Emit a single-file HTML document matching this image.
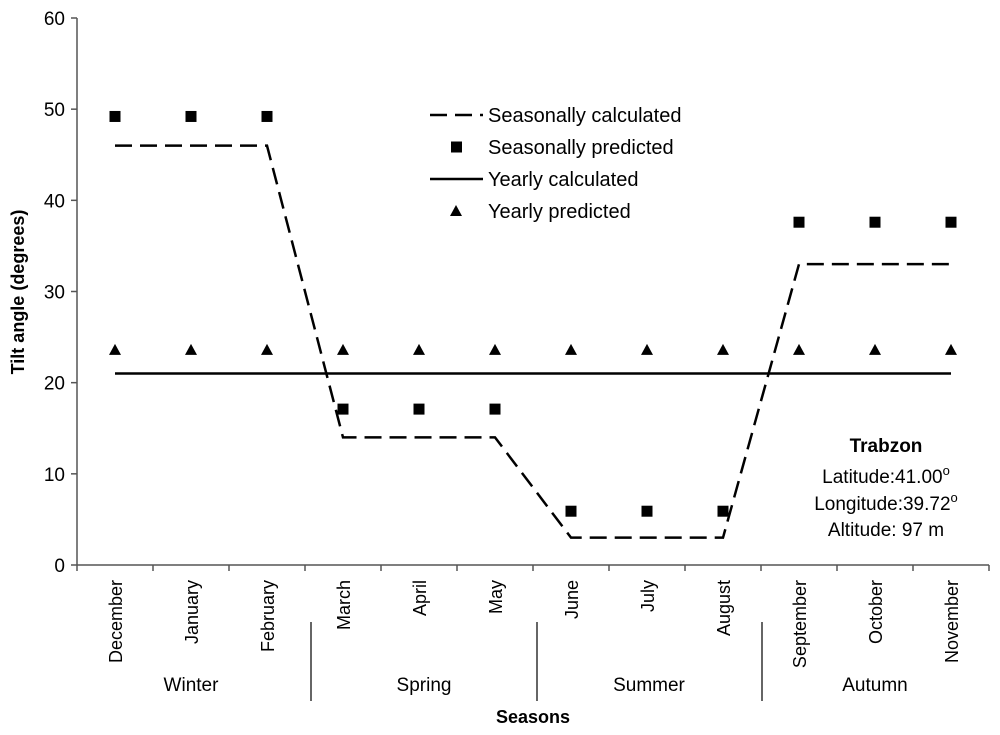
<!DOCTYPE html>
<html><head><meta charset="utf-8"><style>
body{margin:0;background:#fff}
svg{display:block;font-family:"Liberation Sans",Arial,sans-serif}
</style></head><body>
<svg id="c" width="1000" height="735"></svg>
<script>
const months=["December","January","February","March","April","May","June","July","August","September","October","November"];
const seasonalCalc=[46,46,46,14,14,14,3,3,3,33,33,33];
const seasonalPred=[49.2,49.2,49.2,17.1,17.1,17.1,5.9,5.9,5.9,37.6,37.6,37.6];
const yearlyCalc=[21,21,21,21,21,21,21,21,21,21,21,21];
const yearlyPred=[23.6,23.6,23.6,23.6,23.6,23.6,23.6,23.6,23.6,23.6,23.6,23.6];
const yTicks=[0,10,20,30,40,50,60];
const seasons=["Winter","Spring","Summer","Autumn"];

const L=77,T=18,B=565,BW=76;
const sepX=[311,537,762];
const x=i=>L+BW*(i+0.5);
const y=v=>B-(B-T)*v/60;
const svg=document.getElementById('c');
const NS="http://www.w3.org/2000/svg";
function el(t,a,p){const e=document.createElementNS(NS,t);for(const k in a)e.setAttribute(k,a[k]);(p||svg).appendChild(e);return e;}

let ax=el('line',{x1:L,y1:T,x2:L,y2:B,stroke:'#555','stroke-width':1.5});


ax=el('line',{x1:L,y1:B,x2:L+BW*12,y2:B,stroke:'#555','stroke-width':1.5});


yTicks.forEach(v=>{
  el('line',{x1:L-6,y1:y(v),x2:L,y2:y(v),stroke:'#555','stroke-width':1.5});
  const t=el('text',{x:L-12,y:y(v)+7,'text-anchor':'end','font-size':19});
  t.textContent=v;
  
  
});
for(let i=0;i<=12;i++)el('line',{x1:L+BW*i,y1:B,x2:L+BW*i,y2:B+6,stroke:'#555','stroke-width':1.5});
months.forEach((m,i)=>{
  const t=el('text',{transform:`translate(${x(i)+7},580) rotate(-90)`,'text-anchor':'end','font-size':18});
  t.textContent=m;
  
  
});
const segC=[191,424,649,875];
seasons.forEach((s,k)=>{
  const t=el('text',{x:segC[k],y:691,'text-anchor':'middle','font-size':19});
  t.textContent=s;
  
  
  if(k>0){const l=el('line',{x1:sepX[k-1],y1:622,x2:sepX[k-1],y2:701,stroke:'#333','stroke-width':1.5});
    }
});
let t=el('text',{x:533,y:723,'text-anchor':'middle','font-size':18,'font-weight':'bold'});t.textContent="Seasons";

t=el('text',{transform:'translate(24,292) rotate(-90)','text-anchor':'middle','font-size':18,'font-weight':'bold'});t.textContent="Tilt angle (degrees)";


let p=el('polyline',{points:seasonalCalc.map((v,i)=>x(i)+','+y(v)).join(' '),fill:'none',stroke:'#000','stroke-width':2.5,'stroke-dasharray':'17,8'});

p=el('polyline',{points:yearlyCalc.map((v,i)=>x(i)+','+y(v)).join(' '),fill:'none',stroke:'#000','stroke-width':2.5});

seasonalPred.forEach((v,i)=>{const r=el('rect',{x:x(i)-5.5,y:y(v)-5.5,width:11,height:11,fill:'#000'});
  });
yearlyPred.forEach((v,i)=>{const r=el('polygon',{points:`${x(i)},${y(v)-6} ${x(i)-6},${y(v)+5} ${x(i)+6},${y(v)+5}`,fill:'#000'});
  });

const lg=el('g',{});
const items=["Seasonally calculated","Seasonally predicted","Yearly calculated","Yearly predicted"];
items.forEach((s,k)=>{
  const yy=115+32*k;
  if(k==0)el('line',{x1:430,y1:yy,x2:483,y2:yy,stroke:'#000','stroke-width':2.5,'stroke-dasharray':'17,8'},lg);
  if(k==1)el('rect',{x:451,y:yy-5.5,width:11,height:11},lg);
  if(k==2)el('line',{x1:430,y1:yy,x2:483,y2:yy,stroke:'#000','stroke-width':2.5},lg);
  if(k==3)el('polygon',{points:`456,${yy-6} 450,${yy+5} 462,${yy+5}`},lg);
  const tt=el('text',{x:488,y:yy+7,'font-size':20},lg);tt.textContent=s;
  
});
const an=el('g',{'text-anchor':'middle','font-size':19});
t=el('text',{x:886,y:452,'font-weight':'bold'},an);t.textContent="Trabzon";
t=el('text',{x:886,y:483},an);t.innerHTML='Latitude:41.00<tspan dy="-8" font-size="13">o</tspan>';
t=el('text',{x:886,y:510},an);t.innerHTML='Longitude:39.72<tspan dy="-8" font-size="13">o</tspan>';
t=el('text',{x:886,y:536},an);t.textContent="Altitude: 97 m";
</script>
</body></html>
